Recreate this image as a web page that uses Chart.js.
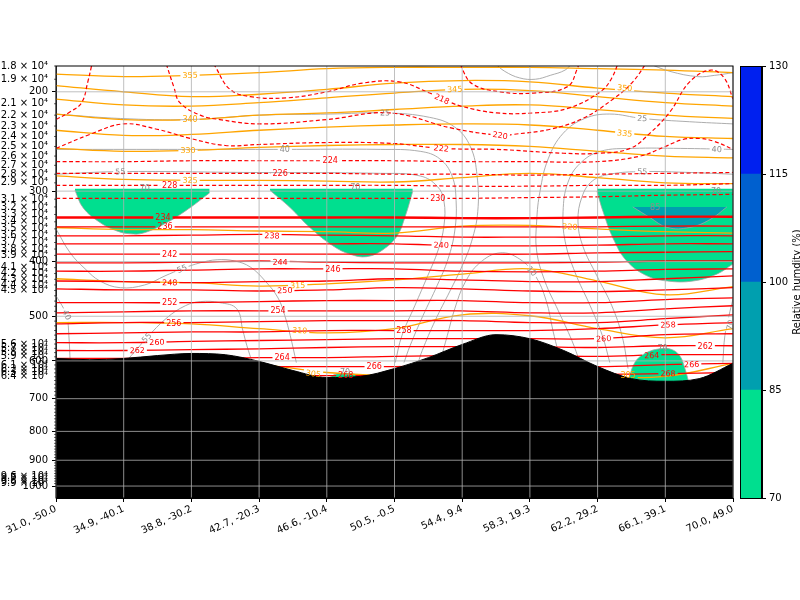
<!DOCTYPE html>
<html><head><meta charset="utf-8">
<script src="https://cdn.jsdelivr.net/npm/chart.js@4.4.1/dist/chart.umd.min.js"></script>
<style>
html,body{margin:0;padding:0;background:#fff;}
#wrap{position:relative;width:800px;height:600px;}
canvas{position:absolute;left:0;top:0;}
#cbar{pointer-events:none;}
</style></head><body>
<div id="wrap"><canvas id="main" width="800" height="600"></canvas><canvas id="cbar" width="800" height="600"></canvas></div>
<script>
// ================= DATA =================
const xTickLabels = ['31.0, -50.0','34.9, -40.1','38.8, -30.2','42.7, -20.3','46.6, -10.4','50.5, -0.5','54.4, 9.4','58.3, 19.3','62.2, 29.2','66.1, 39.1','70.0, 49.0'];
const nodeX = [0,1,2,3,4,5,6,7,8,9,10];
const yMajorTicks = [200,300,400,500,600,700,800,900,1000];
const yLabelledMinor = [180,190,210,220,230,240,250,260,270,280,290,310,320,330,340,350,360,370,380,390,410,420,430,440,450,560,570,580,590,610,620,630,640,960,970,980,990];

// colour-bar levels (relative humidity, %)
const rhLevels = [70,85,100,115,130];
const rhColors = ['#00df8f','#009faf','#0060cf','#0020ef'];

// terrain (surface pressure, hPa)
const terrainX = [0,0.5,1,1.5,2,2.5,3,3.5,4,4.5,5,5.5,6,6.5,7,7.5,8,8.5,9,9.5,10];
const surfacePressure = [594,597,594,587,582,585,601,624,642,639,619,592,561,539,548,575,614,645,652,645,606];

// RH >= 70 / >= 85 areas: lower edge and cap level
const blob1X = [0.28,0.40,0.65,0.90,1.09,1.29,1.64,1.98,2.27];
const blob1P = [299,321,341,353,357,356,341,321,302];
const blob2X = [3.16,3.46,3.75,4.09,4.34,4.59,4.83,5.04,5.16,5.27];
const blob2P = [299,321,348,375,388,392,381,360,332,300];
const blob3X = [7.99,8.08,8.23,8.43,8.73,9.03,9.41,9.76,10];
const blob3P = [300,326,364,399,424,433,433,421,404];
const blobCap = 297;
const teal1X = [8.52,8.77,9.03,9.36,9.66,9.91];
const teal1P = [320,334,348,348,337,320];
const tealCap = 320;
const blob4X = [8.45,8.55,8.70,8.92,9.10,9.22,9.29,9.34];
const blob4P = [652,604,582,571,573,589,619,650];
const blob5X = [4.02,4.12,4.27,4.42,4.52];
const blob5P = [645,634,632,634,642];
const lowCap = 660;

// temperature (K) isotherms, solid (pressure at nodeX)
const iso234 = [334,334,334,334,334,334,335,335,334,333,333];
const iso236 = [347,347,347,347,347,347,347,347,347,346,346];
const iso238 = [360,360,359,358,359,360,362,362,362,360,360];
const iso240 = [372,372,372,372,372,372,375,375,374,372,372];
const iso242 = [388,388,388,388,388,388,388,388,386,385,384];
const iso244 = [402,402,401,399,401,402,402,402,401,399,399];
const iso246 = [416,416,414,412,412,412,416,417,416,413,412];
const iso248 = [433,434,436,434,433,429,431,434,434,429,424];
const iso250 = [447,449,449,451,449,445,447,451,452,449,445];
const iso252 = [473,473,473,471,469,469,469,473,473,467,464];
const iso254 = [493,491,489,489,489,489,489,493,493,485,479];
const iso256 = [516,513,513,511,509,509,509,513,513,505,497];
const iso258 = [537,535,533,533,530,530,530,530,526,518,513];
const iso260 = [557,557,554,552,550,548,548,548,548,539,537];
const iso262 = [575,575,573,571,568,566,566,566,568,564,564];
const iso264 = [594,594,594,592,592,589,587,587,589,585,585];
const iso266 = [614,614,614,614,614,614,611,611,614,609,606];
const iso268 = [637,637,637,637,637,637,634,634,634,632,629];
// dashed isotherms
const iso226 = [279,279,279,279,279,280,280,281,280,279,278];
const iso228 = [293,293,293,293,293,293,294,294,293,293,291];
const iso230 = [309,309,309,309,309,309,309,308,307,305,304];
const iso224X = [0,1.0,1.99,3.0,4.0,4.99,6.0,7.0,7.99,8.63,9.0,9.26,9.51,9.73,10];
const iso224P = [266,266,265,265,265,265,266,266,266,260,250,243,242,245,253];
const iso222X = [0,0.50,1.00,1.49,1.99,2.50,3.00,4.00,4.99,5.69,6.51,7.50,8.04,8.48,8.77,9.07,9.36,9.67,9.87,10];
const iso222P = [252,238,228,233,242,249,248,246,247,252,253,257,257,252,237,217,192,183,189,206];
const iso220X = [1.60,1.74,1.83,2.13,2.42,3.01,4.00,4.93,5.85,6.56,6.75,7.30,7.78,8.23,8.52,8.77];
const iso220P = [174,196,209,220,224,228,224,218,232,239,238,233,223,206,192,174];
const iso218X = [2.29,2.36,2.57,2.87,3.41,4.00,4.53,5.07,5.52,5.72,5.98,6.51,7.05,7.56,8.04,8.21,8.33];
const iso218P = [174,181,198,204,205,200,193,192,201,206,212,218,218,214,200,189,174];
const iso216X = [5.97,6.00,6.16,6.56,7.05,7.55,7.70,7.74];
const iso216P = [174,182,194,200,201,196,182,174];
const iso220LX = [0,0.21,0.38,0.47,0.52,0.55];
const iso220LP = [224,217,209,192,181,174];

// potential temperature (K) isentropes (pressure at nodeX)
const th355 = [186,188,187,185,182,181,181,181,182,183,185];
const th350 = [195,200,204,202,198,193,191,192,197,201,204];
const th345 = [206,211,212,209,205,201,198,199,204,209,212];
const th340 = [219,224,224,220,218,215,212,211,215,220,223];
const th335 = [234,239,238,234,231,229,228,229,234,240,242];
const th330 = [252,255,254,251,249,248,248,250,255,260,262];
const th325 = [282,286,287,287,288,289,284,279,284,290,291];
const th320 = [348,351,351,353,354,356,346,345,350,354,356];
const th315 = [429,434,436,442,438,431,421,412,433,458,443];
const th310 = [513,513,516,526,535,526,497,499,526,546,526];
const th305 = [619,614,609,609,629,637,629,624,639,639,606];

// relative humidity (%) contour lines
const rhAX = [0,0.95,1.96,3.01,4.05,4.86,5.52,5.89,6.12,6.22,6.23,6.14,6.00,5.82,5.60,5.41,5.35];
const rhAP = [219,223,224,220,219,218,222,231,250,282,326,368,407,451,509,575,604];
const rhCX = [0,1.39,3.35,4.79,5.38,5.67,5.85,5.91,5.89,5.79,5.63,5.42,5.23,5.14];
const rhCP = [253,253,253,253,255,263,282,312,353,396,441,499,564,604];
const rhEX = [0,0.95,2.87,4.79,5.38,5.63,5.73,5.73,5.64,5.49,5.30,5.11,5.01];
const rhEP = [280,277,278,279,282,294,312,346,383,424,479,541,604];
const rhBX = [10,9.36,8.66,8.18,7.81,7.49,7.27,7.15,7.10,7.10,7.22,7.42,7.62,7.74];
const rhBP = [228,226,223,219,223,237,263,300,339,383,433,489,552,604];
const rhDX = [10,9.22,8.52,8.04,7.74,7.56,7.49,7.52,7.67,7.89,8.07,8.18];
const rhDP = [253,252,252,255,268,290,326,368,419,479,541,604];
const rhFX = [10,9.36,8.66,8.18,7.92,7.77,7.71,7.78,7.99,8.21,8.36,8.45];
const rhFP = [280,278,277,280,288,307,339,375,424,479,541,619];
const rhJX = [5.67,5.78,5.89,6.04,6.26,6.56,6.85,7.08,7.24,7.34,7.42];
const rhJP = [604,541,485,436,402,386,396,424,469,530,580];
const rhGX = [0,0.21,0.43,0.65,0.95,1.31,1.61,1.86,2.13,2.38,2.64,2.87,3.09,3.28,3.38,3.46,3.55];
const rhGP = [350,386,412,433,445,440,424,412,402,397,399,409,433,464,499,541,604];
const rhHX = [0,0.09,0.16,0.19,0.21];
const rhHP = [460,479,499,541,604];
const rhIX = [1.02,1.20,1.34,1.64,1.91,2.13,2.42,2.67,2.76,2.82,2.90];
const rhIP = [604,571,546,503,479,471,473,485,530,564,604];
const rhLX = [6.48,6.63,6.85,7.08,7.30,7.52,7.62];
const rhLP = [178,184,189,190,187,183,178];
const rhMX = [8.74,9.07,9.48,9.73,10];
const rhMP = [178,184,188,187,185];
const rhKX = [10,9.94,9.88,9.85];
const rhKP = [466,499,541,604];

// contour labels
const labelText = ['218','220','222','224','226','228','230','234','236','238','240','242','244','246','248','250','252','254','256','258','258','260','260','262','262','264','264','266','266','268','268',
  '355','345','350','340','335','330','325','320','315','310','305','305',
  '25','25','40','40','55','55','70','70','70','85','55','40','55','10','70','70','70'];
const labelX = [5.70,6.56,5.69,4.05,3.31,1.68,5.64,1.58,1.61,3.19,5.69,1.68,3.31,4.09,1.68,3.38,1.68,3.28,1.74,5.14,9.04,1.49,8.09,1.20,9.59,3.34,8.80,4.70,9.39,4.28,9.04,
  1.98,5.89,8.40,1.98,8.40,1.95,1.98,7.59,3.57,3.60,3.80,8.45,
  4.86,8.66,3.38,9.76,0.95,8.66,1.31,4.42,9.75,8.85,1.86,0.16,1.34,7.03,9.96,8.96,4.27];
const labelP = [206,239,252,265,279,293,309,334,347,360,374,388,401,413,436,450,473,489,514,530,518,556,548,575,566,592,587,614,609,637,632,
  187,198,197,224,237,254,287,347,441,530,632,637,
  218,223,253,253,277,277,297,296,300,321,412,497,546,416,518,571,630];
const labelLine = ['i218','i220','i222','i224','i226','i228','i230','i234','i236','i238','i240','i242','i244','i246','i248','i250','i252','i254','i256','i258','i258','i260','i260','i262','i262','i264','i264','i266','i266','i268','i268',
  'th355','th345','th350','th340','th335','th330','th325','th320','th315','th310','th305','th305',
  'rhA','rhB','rhC','rhD','rhE','rhF','','','','','rhG','rhH','rhI','rhJ','rhK','',''];

// ================= CHART =================
Chart.defaults.font.family = "'DejaVu Sans', sans-serif";
Chart.defaults.font.size = 10;
Chart.defaults.color = '#000';

const allYTicks = [];
for (let v = 180; v <= 1000; v += 10) allYTicks.push(v);
function yTickLabel(v) {
  if (yMajorTicks.includes(v)) return String(v);
  if (yLabelledMinor.includes(v)) return (v / 100).toFixed(1) + ' \u00d7 10\u2074';
  return '';
}

const RED = '#ff0000', ORANGE = '#ffa500', GRAY = '#a4a4a4';
const S_SOLID = {borderColor: RED, borderWidth: 1.3, order: 1};
const S_THICK = {borderColor: RED, borderWidth: 2.4, order: 1};
const S_DASH  = {borderColor: RED, borderWidth: 1.2, borderDash: [4, 2.5], order: 1};
const S_THETA = {borderColor: ORANGE, borderWidth: 1.3, order: 2};
const S_RH    = {borderColor: GRAY, borderWidth: 0.9, order: 3};

const datasets = [];
function pts(xs, ps) { return xs.map((x, i) => ({x: x, y: ps[i]})); }
function addLine(cid, xs, ps, style) {
  datasets.push(Object.assign({cid: cid, data: pts(xs, ps), pointRadius: 0, fill: false, clip: 0, tension: 0.4}, style));
}
function addArea(cid, xs, ps, cap, color, order) {
  datasets.push({cid: cid, data: pts(xs, ps), pointRadius: 0, clip: 0, tension: 0.4,
    fill: {value: cap}, backgroundColor: color, borderColor: GRAY, borderWidth: 0.8, order: order});
}

// terrain
datasets.push({cid: 'terrain', data: pts(terrainX, surfacePressure), pointRadius: 0, clip: 0,
  cubicInterpolationMode: 'monotone', fill: 'start', backgroundColor: '#000', borderColor: '#000', borderWidth: 1, order: 0});

// filled RH
addArea('blob1', blob1X, blob1P, blobCap, rhColors[0], 6);
addArea('blob2', blob2X, blob2P, blobCap, rhColors[0], 6);
addArea('blob3', blob3X, blob3P, blobCap, rhColors[0], 6);
addArea('blob4', blob4X, blob4P, lowCap, rhColors[0], 6);
addArea('blob5', blob5X, blob5P, lowCap, rhColors[0], 6);
addArea('teal1', teal1X, teal1P, tealCap, rhColors[1], 5);

// isotherms
addLine('i234', nodeX, iso234, S_THICK);
[[236,iso236],[238,iso238],[240,iso240],[242,iso242],[244,iso244],[246,iso246],[248,iso248],[250,iso250],[252,iso252],
 [254,iso254],[256,iso256],[258,iso258],[260,iso260],[262,iso262],[264,iso264],[266,iso266],[268,iso268]]
  .forEach(([t, arr]) => addLine('i' + t, nodeX, arr, S_SOLID));
addLine('i226', nodeX, iso226, S_DASH);
addLine('i228', nodeX, iso228, S_DASH);
addLine('i230', nodeX, iso230, S_DASH);
addLine('i224', iso224X, iso224P, S_DASH);
addLine('i222', iso222X, iso222P, S_DASH);
addLine('i220', iso220X, iso220P, S_DASH);
addLine('i218', iso218X, iso218P, S_DASH);
addLine('i216', iso216X, iso216P, S_DASH);
addLine('i220L', iso220LX, iso220LP, S_DASH);

// isentropes
[[355,th355],[350,th350],[345,th345],[340,th340],[335,th335],[330,th330],[325,th325],[320,th320],[315,th315],[310,th310],[305,th305]]
  .forEach(([t, arr]) => addLine('th' + t, nodeX, arr, S_THETA));

// RH lines
addLine('rhA', rhAX, rhAP, S_RH);
addLine('rhB', rhBX, rhBP, S_RH);
addLine('rhC', rhCX, rhCP, S_RH);
addLine('rhD', rhDX, rhDP, S_RH);
addLine('rhE', rhEX, rhEP, S_RH);
addLine('rhF', rhFX, rhFP, S_RH);
addLine('rhG', rhGX, rhGP, S_RH);
addLine('rhH', rhHX, rhHP, S_RH);
addLine('rhI', rhIX, rhIP, S_RH);
addLine('rhJ', rhJX, rhJP, S_RH);
addLine('rhK', rhKX, rhKP, S_RH);
addLine('rhL', rhLX, rhLP, S_RH);
addLine('rhM', rhMX, rhMP, S_RH);

const LABEL_FONT = "8px 'DejaVu Sans', sans-serif";
function labelColorFor(id) {
  if (id.startsWith('i')) return RED;
  if (id.startsWith('th')) return ORANGE;
  return '#8c8c8c';
}
function segDist(px, py, ax, ay, bx, by) {
  const dx = bx - ax, dy = by - ay, L = dx * dx + dy * dy;
  let t = L ? ((px - ax) * dx + (py - ay) * dy) / L : 0;
  t = Math.max(0, Math.min(1, t));
  const qx = ax + t * dx - px, qy = ay + t * dy - py;
  return Math.sqrt(qx * qx + qy * qy);
}
function computeLabels(chart) {
  const xs = chart.scales.x, ys = chart.scales.y, ctx = chart.ctx;
  ctx.save(); ctx.font = LABEL_FONT;
  const res = [];
  for (let i = 0; i < labelText.length; i++) {
    const px = xs.getPixelForValue(labelX[i]), py = ys.getPixelForValue(labelP[i]);
    const di = labelLine[i] ? chart.data.datasets.findIndex(d => d.cid === labelLine[i]) : -1;
    let ang = 0;
    if (di >= 0) {
      const el = chart.getDatasetMeta(di).data;
      let best = Infinity;
      for (let k = 0; k < el.length - 1; k++) {
        const a = el[k], b = el[k + 1];
        const d = segDist(px, py, a.x, a.y, b.x, b.y);
        if (d < best) { best = d; ang = Math.atan2(b.y - a.y, b.x - a.x); }
      }
      if (ang > Math.PI / 2) ang -= Math.PI;
      if (ang < -Math.PI / 2) ang += Math.PI;
    }
    res.push({text: labelText[i], px, py, ang, w: ctx.measureText(labelText[i]).width, di, color: labelColorFor(labelLine[i])});
  }
  ctx.restore();
  return res;
}

const contourPlugin = {
  id: 'contourLabels',
  beforeDatasetsDraw(chart) { chart.$labels = computeLabels(chart); },
  beforeDatasetDraw(chart, args) {
    const mine = (chart.$labels || []).filter(L => L.di === args.index);
    if (!mine.length) return;
    const ctx = chart.ctx;
    ctx.save();
    ctx.beginPath();
    ctx.rect(0, 0, chart.width, chart.height);
    mine.forEach(L => {
      const hw = L.w / 2 + 2, hh = 4.5, c = Math.cos(L.ang), s = Math.sin(L.ang);
      const q = [[-hw, -hh], [hw, -hh], [hw, hh], [-hw, hh]].map(([u, v]) => [L.px + u * c - v * s, L.py + u * s + v * c]);
      ctx.moveTo(q[0][0], q[0][1]);
      for (let k = 1; k < 4; k++) ctx.lineTo(q[k][0], q[k][1]);
      ctx.closePath();
    });
    ctx.clip('evenodd');
    chart.$clipped = args.index;
  },
  afterDatasetDraw(chart, args) {
    if (chart.$clipped === args.index) { chart.ctx.restore(); chart.$clipped = null; }
  },
  afterDatasetsDraw(chart) {
    const ca = chart.chartArea, ctx = chart.ctx, xs = chart.scales.x, ys = chart.scales.y;
    ctx.save();
    ctx.lineWidth = 0.8; ctx.strokeStyle = '#b0b0b0';
    ctx.beginPath();
    yMajorTicks.forEach(v => { const y = ys.getPixelForValue(v); ctx.moveTo(ca.left, y); ctx.lineTo(ca.right, y); });
    nodeX.forEach(v => { const x = xs.getPixelForValue(v); ctx.moveTo(x, ca.top); ctx.lineTo(x, ca.bottom); });
    ctx.stroke();
    ctx.strokeStyle = '#000'; ctx.lineWidth = 0.6;
    ctx.beginPath();
    allYTicks.forEach(v => { if (!yMajorTicks.includes(v)) { const y = ys.getPixelForValue(v); ctx.moveTo(ca.left - 2, y); ctx.lineTo(ca.left, y); } });
    ctx.stroke();
    ctx.lineWidth = 1; ctx.strokeStyle = '#000';
    ctx.strokeRect(ca.left, ca.top, ca.right - ca.left, ca.bottom - ca.top);
    ctx.font = LABEL_FONT; ctx.textAlign = 'center'; ctx.textBaseline = 'middle';
    (chart.$labels || []).forEach(L => {
      ctx.save(); ctx.translate(L.px, L.py); ctx.rotate(L.ang);
      ctx.fillStyle = L.color; ctx.fillText(L.text, 0, 0.5);
      ctx.restore();
    });
    ctx.restore();
  }
};

new Chart(document.getElementById('main'), {
  type: 'line',
  data: {datasets: datasets},
  options: {
    responsive: false, animation: false, devicePixelRatio: 1,
    parsing: true,
    layout: {padding: {top: 66, right: 67, left: 0, bottom: 0}},
    plugins: {legend: {display: false}, tooltip: {enabled: false}},
    scales: {
      x: {
        type: 'linear', min: 0, max: 10,
        afterBuildTicks: s => { s.ticks = nodeX.map(v => ({value: v})); },
        ticks: {callback: v => xTickLabels[Math.round(v)], minRotation: 25, maxRotation: 25, autoSkip: false, color: '#000', font: {size: 10}, padding: 1},
        grid: {drawOnChartArea: false, drawTicks: true, tickLength: 4, color: '#000', tickColor: '#000'},
        border: {display: true, color: '#000', width: 1},
        afterFit: s => { s.height = 102; s.paddingLeft = 0; s.paddingRight = 0; }
      },
      y: {
        type: 'logarithmic', reverse: true, min: 180, max: 1050,
        afterBuildTicks: s => { s.ticks = allYTicks.map(v => ({value: v})); },
        ticks: {callback: v => yTickLabel(v), autoSkip: false, color: '#000', font: {size: 10}, padding: 4},
        grid: {drawOnChartArea: false, drawTicks: true, tickLength: 4,
               tickColor: c => (c.tick && yMajorTicks.includes(c.tick.value)) ? '#000' : 'rgba(0,0,0,0)'},
        border: {display: true, color: '#000', width: 1},
        afterFit: s => { s.width = 56; s.paddingTop = 0; s.paddingBottom = 0; }
      }
    }
  },
  plugins: [contourPlugin]
});

// ---------- colour bar ----------
const cbarPlugin = {
  id: 'cbarFrame',
  afterDraw(chart) {
    const ca = chart.chartArea, ctx = chart.ctx;
    ctx.save();
    ctx.strokeStyle = '#000'; ctx.lineWidth = 1;
    ctx.strokeRect(ca.left + 0.5, ca.top + 0.5, ca.right - ca.left - 1, ca.bottom - ca.top);
    ctx.translate(797, (ca.top + ca.bottom) / 2);
    ctx.rotate(-Math.PI / 2);
    ctx.fillStyle = '#000'; ctx.font = "10px 'DejaVu Sans', sans-serif";
    ctx.textAlign = 'center'; ctx.textBaseline = 'middle';
    ctx.fillText('Relative humdity (%)', 0, 0);
    ctx.restore();
  }
};
const rhBins = rhLevels.slice(0, -1).map((lo, i) => [lo, rhLevels[i + 1]]);
new Chart(document.getElementById('cbar'), {
  type: 'bar',
  data: {
    labels: ['rh'],
    datasets: rhBins.map((b, i) => ({data: [b], backgroundColor: rhColors[i], borderWidth: 0,
      barPercentage: 1, categoryPercentage: 1, grouped: false}))
  },
  options: {
    responsive: false, animation: false, devicePixelRatio: 1,
    layout: {padding: {left: 740, top: 66, bottom: 102, right: 0}},
    plugins: {legend: {display: false}, tooltip: {enabled: false}},
    scales: {
      x: {display: false},
      y: {
        position: 'right', min: 70, max: 130,
        afterBuildTicks: s => { s.ticks = rhLevels.map(v => ({value: v})); },
        ticks: {color: '#000', font: {size: 10}, padding: 3},
        grid: {drawOnChartArea: false, tickLength: 4, color: '#000', tickColor: '#000'},
        border: {display: true, color: '#000'},
        afterFit: s => { s.width = 38; s.paddingTop = 0; s.paddingBottom = 0; }
      }
    }
  },
  plugins: [cbarPlugin]
});
</script>
</body></html>
